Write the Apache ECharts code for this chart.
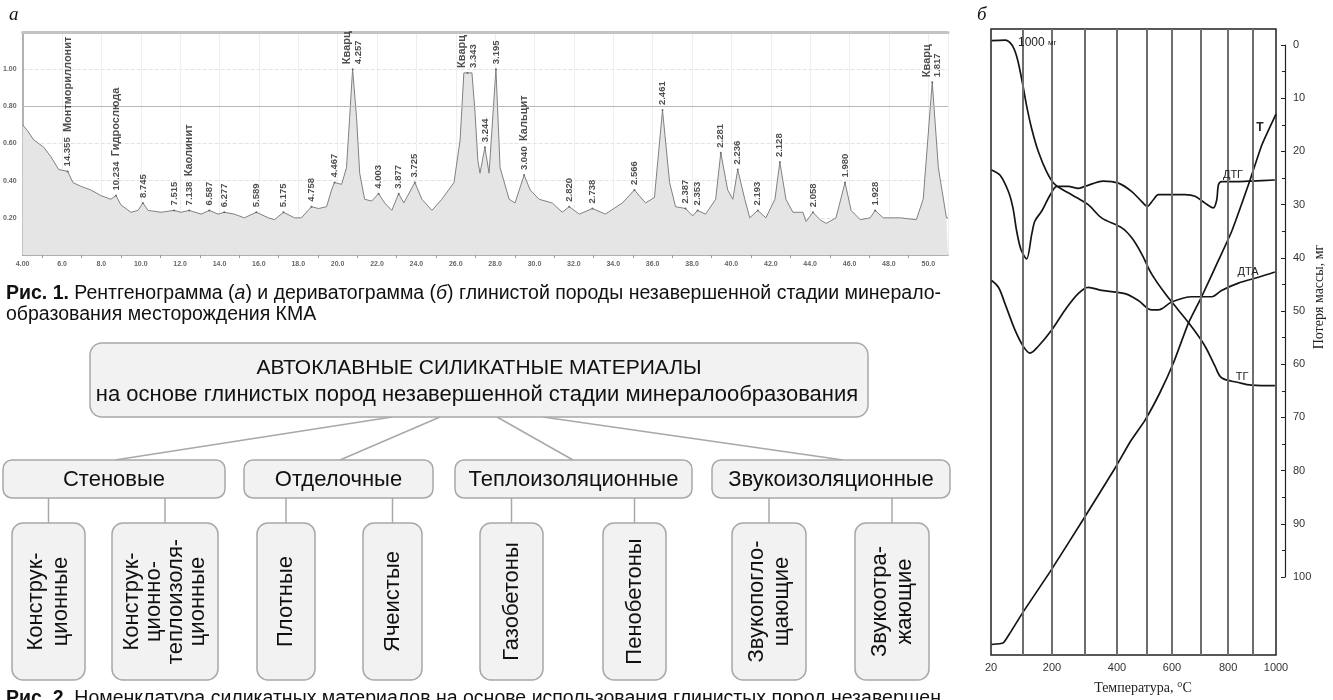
<!DOCTYPE html>
<html><head><meta charset="utf-8">
<script src="https://cdn.jsdelivr.net/npm/echarts@6/dist/echarts.min.js"></script>
<style>html,body{margin:0;padding:0;background:#fff}#c{width:1333px;height:700px}</style>
</head><body><div id="c"></div>
<script>
// ---------- (а) X-ray diffraction pattern ----------
const xrdTheta = [4.00,4.24,4.56,5.07,5.43,5.83,6.29,6.55,6.95,7.46,7.97,8.48,8.74,8.99,9.50,9.86,10.11,10.37,11.03,11.69,12.05,12.46,13.07,13.48,13.93,14.24,14.75,15.26,15.87,16.48,16.79,17.25,17.81,18.16,18.67,19.03,19.44,19.69,19.84,20.20,20.45,20.61,20.76,20.96,21.12,21.37,21.73,22.08,22.39,22.75,23.10,23.36,23.92,24.28,24.79,25.29,25.91,26.22,26.41,26.82,26.97,27.12,27.23,27.48,27.69,28.04,28.25,28.71,29.01,29.47,29.78,30.23,30.90,31.41,31.76,32.27,32.94,33.60,34.46,35.07,35.64,36.09,36.50,36.86,37.16,37.67,38.03,38.28,38.69,39.20,39.46,39.81,40.07,40.32,40.68,40.93,41.34,41.75,42.21,42.46,42.77,43.12,43.63,43.79,44.14,44.50,44.81,45.31,45.77,46.08,46.54,47.05,47.30,47.71,48.57,49.39,49.74,50.20,50.51,50.92,51.00];
const xrdIntensity = [0.70,0.67,0.62,0.58,0.53,0.46,0.45,0.39,0.37,0.35,0.32,0.30,0.32,0.27,0.23,0.24,0.28,0.24,0.23,0.24,0.23,0.24,0.22,0.24,0.22,0.23,0.22,0.20,0.23,0.20,0.19,0.23,0.20,0.20,0.26,0.25,0.26,0.35,0.39,0.38,0.47,0.74,1.00,0.74,0.44,0.30,0.29,0.33,0.28,0.24,0.33,0.28,0.39,0.30,0.24,0.30,0.39,0.62,0.98,0.98,0.78,0.51,0.44,0.58,0.44,1.00,0.47,0.30,0.28,0.43,0.35,0.30,0.28,0.23,0.26,0.22,0.25,0.22,0.28,0.35,0.28,0.31,0.78,0.39,0.26,0.25,0.21,0.24,0.22,0.30,0.55,0.35,0.30,0.46,0.30,0.20,0.24,0.20,0.30,0.50,0.30,0.23,0.23,0.18,0.23,0.19,0.17,0.20,0.39,0.24,0.19,0.20,0.24,0.20,0.20,0.19,0.30,0.93,0.47,0.20,0.20];
const peakTheta = [6.29,8.74,10.11,11.69,12.46,13.48,14.24,15.87,17.25,18.67,19.84,20.76,22.08,23.10,23.92,26.60,27.48,28.04,29.47,31.76,32.94,35.07,36.50,37.67,38.28,39.46,40.32,41.34,42.46,44.14,45.77,47.30,50.20];
const peakIntensity = [0.45,0.32,0.28,0.24,0.24,0.24,0.23,0.23,0.23,0.26,0.39,1.00,0.33,0.33,0.39,0.98,0.58,1.00,0.43,0.26,0.25,0.35,0.78,0.25,0.24,0.55,0.46,0.24,0.50,0.23,0.39,0.24,0.93];
const peakD = ['14.355','10.234','8.745','7.515','7.138','6.587','6.277','5.589','5.175','4.758','4.467','4.257','4.003','3.877','3.725','3.343','3.244','3.195','3.040','2.820','2.738','2.566','2.461','2.387','2.353','2.281','2.236','2.193','2.128','2.058','1.980','1.928','1.817'];
const peakMineral = ['Монтмориллонит','Гидрослюда','','','Каолинит','','','','','','','Кварц','','','','Кварц','','','Кальцит','','','','','','','','','','','','','','Кварц'];

// ---------- (б) derivatogram ----------
const timeGridLines = [11.2,21.4,33.0,44.2,54.7,63.5,73.7,83.2,91.9];
const tempLabelPos = [0,21.4,44.2,63.5,83.2,100];
const tempLabels = ['20','200','400','600','800','1000'];
const tgX = [0.2,4.9,7.3,9.0,10.8,12.5,14.3,16.6,19.5,22.5,28.3,34.1,38.8,45.9,49.4,52.9,56.4,61.1,65.7,70.4,75.1,78.6,80.9,86.8,91.5,99.6];
const tgY = [-0.8,-0.9,0,2.2,6.6,11.6,16.0,20.3,24.1,26.6,28.5,30.4,32.9,34.8,36.7,39.8,43.6,47.3,50.4,53.6,57.3,61.1,63.3,64.2,64.7,64.8];
const dtgX = [0.2,3.2,6.1,7.7,9.0,10.5,12.5,14.3,15.4,17.8,20.7,23.1,27.1,30.6,33.0,39.4,44.7,49.4,52.9,54.8,56.9,58.7,62.2,68.1,71.6,75.1,78.0,79.2,79.8,80.9,86.8,91.5,99.6];
const dtgY = [23.8,24.8,27.9,31.0,35.4,38.9,40.7,36.0,33.5,31.6,28.6,26.9,26.9,27.3,26.9,25.9,26.3,27.9,29.8,30.7,29.5,28.5,28.5,28.5,28.8,30.1,31.0,29.5,26.6,26.0,26.0,25.9,25.7];
const dtaX = [0.2,2.6,4.9,8.4,11.3,13.7,16.6,21.3,26.0,30.6,34.1,38.8,47.0,51.7,56.4,58.7,63.4,70.4,77.4,80.9,86.8,93.8,99.6];
const dtaY = [44.8,46.1,49.2,54.2,57.3,58.6,57.3,54.2,50.4,47.3,46.1,46.7,47.3,48.6,50.4,50.4,48.9,47.9,47.9,46.7,45.3,44.2,43.2];
const tX = [0.2,4.3,6.7,11.3,20.7,32.4,43.5,48.8,54.0,59.3,64.0,69.2,73.9,79.8,84.5,90.9,95.0,100];
const tY = [114.0,113.7,111.8,107.8,100.2,90.2,80.5,75.5,71.4,66.1,60.5,53.0,47.9,41.0,35.4,25.7,19.1,13.2];

// ---------- texts ----------
const caption1a = '{b|Рис. 1.} Рентгенограмма ({i|а}) и дериватограмма ({i|б}) глинистой породы незавершенной стадии минерало-';
const caption1b = 'образования месторождения КМА';
const caption2 = '{b|Рис. 2.} Номенклатура силикатных материалов на основе использования глинистых пород незавершен';
const rootTitle = 'АВТОКЛАВНЫЕ СИЛИКАТНЫЕ МАТЕРИАЛЫ';
const rootSubtitle = 'на основе глинистых пород незавершенной стадии минералообразования';
const groups = ['Стеновые','Отделочные','Теплоизоляционные','Звукоизоляционные'];
const leaves = ['Конструк-\nционные','Конструк-\nционно-\nтеплоизоля-\nционные','Плотные','Ячеистые','Газобетоны','Пенобетоны','Звукопогло-\nщающие','Звукоотра-\nжающие'];
const massAxisName = 'Потеря массы, мг';

const zip = (a,b) => a.map((v,i)=>[v,b[i]]);
const SANS = "'Liberation Sans', Arial, sans-serif";
const SERIF = "'Liberation Serif', 'Times New Roman', serif";

// ---------- diagram graphics ----------
const G = [];
const BOX = {fill:'#f2f2f2', stroke:'#a8a8a8', lineWidth:1.5};
function box(x1,y1,x2,y2,r){G.push({type:'rect',shape:{x:x1,y:y1,width:x2-x1,height:y2-y1,r:r},style:BOX,z:10});}
function link(x1,y1,x2,y2){G.push({type:'line',shape:{x1:x1,y1:y1,x2:x2,y2:y2},style:{stroke:'#a8a8a8',lineWidth:1.5},z:9});}
function txt(x,y,t,o){G.push(Object.assign({type:'text',x:x,y:y,z:20,style:Object.assign({text:t,fill:'#111',fontSize:21,fontFamily:SANS,align:'center',verticalAlign:'middle'},o&&o.style||{})},o&&o.el||{}));}

box(90,343,868,417,12);
txt(479,368,rootTitle,{style:{fontSize:21}});
txt(477,395,rootSubtitle,{style:{fontSize:22}});
const groupSpan = [[3,225],[244,433],[455,692],[712,950]];
const rootAnchors = [392,440,497,543];
const groupAnchors = [115,340,573,843];
groups.forEach((g,i)=>{
  const [a,b]=groupSpan[i];
  box(a,460,b,498,9);
  txt((a+b)/2,480,g,{style:{fontSize:22}});
  link(rootAnchors[i],417,groupAnchors[i],460);
});
const leafSpan = [[12,85],[112,218],[257,315],[363,422],[480,543],[603,666],[732,806],[855,929]];
leaves.forEach((l,i)=>{
  const [a,b]=leafSpan[i];
  const cx=(a+b)/2;
  const nLines=l.split('\n').length;
  box(a,523,b,680,11);
  link(cx,498,cx,523);
  txt(cx,601.5,l,{el:{rotation:Math.PI/2},style:{fontSize:22,lineHeight:nLines>2?22:25}});
});
// captions
const capRich = {b:{fontWeight:'bold',fontSize:19.5,fontFamily:SANS,fill:'#111'},i:{fontStyle:'italic',fontSize:19.5,fontFamily:SANS,fill:'#111'}};
txt(6,284,caption1a,{style:{fontSize:19.5,align:'left',verticalAlign:'top',rich:capRich}});
txt(6,305,caption1b,{style:{fontSize:19.5,align:'left',verticalAlign:'top'}});
txt(6,689,caption2,{style:{fontSize:19.5,align:'left',verticalAlign:'top',rich:capRich}});
// panel letters
txt(9,15,'а',{style:{fontSize:19,fontFamily:SERIF,fontStyle:'italic',align:'left'}});
txt(977,15,'б',{style:{fontSize:19,fontFamily:SERIF,fontStyle:'italic',align:'left'}});
// derivatogram curve labels
txt(1018,43,'{a|1000} {m|мг}',{style:{align:'left',fontSize:12,rich:{a:{fontSize:12,fontFamily:SANS,fill:'#222'},m:{fontSize:8,fontFamily:SANS,fill:'#222'}}}});
txt(1260,128,'Т',{style:{fontSize:12,fontWeight:'bold',fill:'#222'}});
txt(1233,175,'ДТГ',{style:{fontSize:11,fill:'#222'}});
txt(1248,272,'ДТА',{style:{fontSize:11,fill:'#222'}});
txt(1242,377,'ТГ',{style:{fontSize:11,fill:'#222'}});
// mass-loss axis title
txt(1319,297,massAxisName,{el:{rotation:Math.PI/2},style:{fontSize:14,fontFamily:SERIF,fill:'#222'}});

const peakData = peakTheta.map((t,i)=>({value:[t,peakIntensity[i]],d:peakD[i],m:peakMineral[i]}));

const chart = echarts.init(document.getElementById('c'),null,{renderer:'canvas'});
const curve = (name,x,y,sm) => ({name:name,type:'line',xAxisIndex:2,yAxisIndex:1,data:zip(x,y),showSymbol:false,smooth:sm,lineStyle:{color:'#151515',width:1.7},z:4,silent:true});
const NARROW = "'Liberation Sans Narrow', "+SANS;

chart.setOption({
  animation:false,
  backgroundColor:'#fff',
  grid:[
    {left:22,top:32,width:926,height:223},
    {left:991,top:29,width:285,height:633,show:true,borderColor:'#222',borderWidth:1.5,backgroundColor:'transparent'},
    {left:1285,top:45,width:1,height:532}
  ],
  xAxis:[
    {gridIndex:0,type:'value',min:4,max:51,interval:2,
      axisLine:{lineStyle:{color:'#9a9a9a',width:1.5}},axisTick:{show:false},
      minorTick:{show:true,splitNumber:2,length:3,lineStyle:{color:'#999'}},
      axisLabel:{fontSize:7,fontWeight:'bold',color:'#666',margin:6,showMaxLabel:false,fontFamily:SANS,
        formatter:v=>v===4?'4.00':v.toFixed(1)},
      splitLine:{show:true,lineStyle:{color:'#efefef',width:1}}},
    {gridIndex:0,type:'value',min:4,max:51,position:'top',
      axisLine:{lineStyle:{color:'#c4c4c4',width:3}},axisTick:{show:false},axisLabel:{show:false},splitLine:{show:false}},
    {gridIndex:1,type:'value',min:0,max:100,
      axisLine:{show:false},axisTick:{show:false},splitLine:{show:false},
      axisLabel:{customValues:tempLabelPos,fontSize:11,color:'#333',margin:7,fontFamily:SANS,
        formatter:v=>{const k=tempLabelPos.indexOf(v);return k>=0?tempLabels[k]:'';}},
      name:'Температура, °C',nameLocation:'middle',nameGap:26,
      nameTextStyle:{fontFamily:SERIF,fontSize:14,color:'#222',padding:[0,0,0,19]}},
    {gridIndex:2,type:'value',show:false,min:0,max:1}
  ],
  yAxis:[
    {gridIndex:0,type:'value',min:0,max:1.2,interval:0.2,
      axisLine:{show:true,lineStyle:{color:'#9a9a9a',width:1.5}},axisTick:{show:false},
      axisLabel:{fontSize:7,fontWeight:'bold',color:'#666',margin:6,fontFamily:SANS,
        formatter:v=>(v<0.01||v>1.1)?'':v.toFixed(2)},
      splitLine:{show:true,lineStyle:{color:'#e2e2e2',type:'dashed',width:1}}},
    {gridIndex:1,type:'value',show:false,inverse:true,min:-3,max:116},
    {gridIndex:2,type:'value',inverse:true,min:0,max:100,interval:10,position:'left',
      axisLine:{show:true,lineStyle:{color:'#222',width:1.2}},
      axisTick:{show:true,length:4,lineStyle:{color:'#222'}},
      minorTick:{show:true,splitNumber:2,length:3,lineStyle:{color:'#222'}},
      axisLabel:{inside:true,margin:8,fontSize:11,color:'#333',fontFamily:SANS},
      splitLine:{show:false}}
  ],
  series:[
    {name:'XRD',type:'line',xAxisIndex:0,yAxisIndex:0,data:zip(xrdTheta,xrdIntensity),showSymbol:false,
      lineStyle:{color:'#808080',width:1},areaStyle:{color:'#e5e5e5',opacity:1},silent:true,
      markLine:{silent:true,symbol:'none',label:{show:false},lineStyle:{color:'#b8b8b8',type:'solid',width:1},data:[{yAxis:0.8}]}},
    {name:'peaks',type:'scatter',xAxisIndex:0,yAxisIndex:0,data:peakData,symbol:'circle',symbolSize:2,
      itemStyle:{color:'#555'},silent:true,z:5,
      label:{show:true,position:'top',distance:4,rotate:90,align:'left',verticalAlign:'middle',
        fontSize:9.5,fontWeight:'bold',color:'#222',fontFamily:NARROW,lineHeight:11,
        formatter:p=>{const d=p.data;if(!d.m)return d.d;if(d.value[1]>0.9)return '{m|'+d.m+'}\n'+d.d;return d.d+'  {m|'+d.m+'}';},
        rich:{m:{fontSize:11,fontWeight:'bold',color:'#222',fontFamily:NARROW}}}},
    Object.assign(curve('ТГ',tgX,tgY,0.35),{
      markLine:{silent:true,symbol:'none',label:{show:false},lineStyle:{color:'#6e6e6e',type:'solid',width:2},
        data:timeGridLines.map(v=>({xAxis:v}))}}),
    curve('ДТГ',dtgX,dtgY,0.3),
    curve('ДТА',dtaX,dtaY,0.35),
    curve('Т',tX,tY,0.15)
  ],
  graphic:{elements:G}
});
</script></body></html>
